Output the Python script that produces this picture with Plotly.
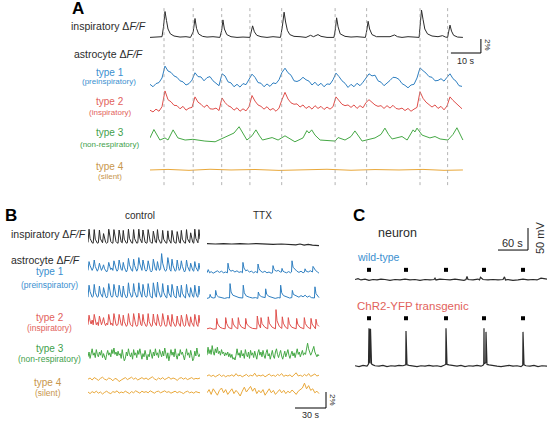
import numpy as np
import plotly.graph_objects as go

W, H = 550, 421
FONT = "Liberation Sans, Arial, sans-serif"

BLACK = "#2b2b2b"
BLUE = "#2f7fc1"
RED = "#e0504c"
GREEN = "#45a845"
ORANGE = "#e9a83a"
BLUE_T = "#3a8fcf"
RED_T = "#e2625c"
GREEN_T = "#3f9f4c"
ORANGE_T = "#c8964c"

# ---------------- panel A (seconds, % dF/F) ----------------
burst_a = [4.67, 14.4, 23.9, 33.3, 43.9, 61.7, 72.2, 90.0, 99.2]

insp_a_t = [0, 1.5, 3, 4.0, 4.5, 5.0, 5.5, 6.0, 6.8, 8,
            10, 12, 13.5, 14.4, 15.0, 15.5, 16.2, 17.5, 19, 21,
            23.3, 23.9, 24.3, 24.8, 25.6, 27, 29, 31, 33.3, 33.8,
            34.2, 34.8, 35.6, 37, 39, 41, 43.5, 44.1, 44.7, 45.2,
            45.8, 46.6, 48, 50, 52, 53.5, 54.5, 56, 57, 59,
            61.3, 61.8, 62.2, 62.7, 63.4, 65, 67, 69, 71.8, 72.3,
            72.7, 73.2, 74, 75.5, 78, 80, 81.5, 82.5, 84, 86,
            88, 89.7, 90.0, 90.5, 91.0, 91.6, 92.5, 94, 96, 97.5,
            98.5, 99.2, 99.6, 100.0, 100.5, 101.2, 102.5, 104.3]
insp_a_v = [0.0, 0.05, 0.0, 0.1, 1.5, 3.7, 2.4, 1.2, 0.5, 0.2,
            0.05, 0.1, 0.0, 0.8, 2.7, 1.3, 0.5, 0.15, 0.05, 0.1,
            0.0, 1.0, 2.5, 1.2, 0.4, 0.1, 0.0, 0.05, 0.0, 1.0,
            1.65, 0.8, 0.3, 0.1, 0.0, 0.1, 0.0, 1.5, 3.6, 2.2,
            1.0, 0.4, 0.15, 0.1, 0.0, 0.3, 0.1, 0.4, 0.15, 0.0,
            0.0, 1.2, 2.8, 1.5, 0.5, 0.15, 0.05, 0.1, 0.0, 1.1,
            2.3, 1.2, 0.4, 0.1, 0.05, 0.1, 0.35, 0.1, 0.0, 0.1,
            0.05, 0.0, 1.5, 3.9, 2.6, 1.2, 0.5, 0.2, 0.1, 0.25,
            0.05, 0.0, 0.9, 1.75, 0.9, 0.3, 0.05, 0.0]

# 1 s sampling, 0..104 s
type1_a = [0.1, -0.25, 0.2, 0.35, 1.0, 2.7, 2.0, 1.8, 1.3, 1.1,
           0.6, 0.45, 0.0, 0.2, 0.7, 1.75, 1.2, 1.15, 0.6, 1.05,
           1.2, 0.6, 0.25, -0.1, 1.6, 1.3, 0.45, 0.3, -0.25, 0.1,
           -0.3, 0.2, 0.05, 0.75, 1.55, 1.1, 0.35, 0.25, -0.25, 0.15,
           -0.2, 0.3, 0.2, 0.75, 1.8, 2.4, 1.75, 1.4, 0.6, 0.5,
           0.7, 1.1, 0.75, 0.55, 0.0, 0.4, -0.1, 0.25, -0.25, 0.15,
           0.1, 0.75, 1.7, 1.2, 0.6, 0.25, -0.35, 0.1, -0.25, 0.25,
           -0.1, 0.4, 0.95, 1.6, 1.3, 1.4, 0.6, 0.4, -0.1, 0.25,
           0.65, 1.1, 1.05, 0.8, 0.2, -0.05, -0.4, 0.0, 0.1, 1.0,
           2.45, 2.05, 1.7, 1.2, 1.1, 0.6, 0.65, 0.9, 0.55, 1.1,
           1.6, 0.9, 0.55, -0.1, -0.2]
type2_a = [0.1, -0.15, 0.25, -0.05, 0.6, 2.85, 1.6, 1.3, 0.8, 0.75,
           0.3, 0.65, 0.1, 0.4, 0.5, 2.0, 1.25, 0.95, 0.5, 0.85,
           0.3, 0.25, 0.4, 0.05, 1.85, 1.2, 0.75, 0.55, 0.1, 0.45,
           -0.05, 0.3, 0.0, 0.6, 2.2, 1.4, 0.85, 0.65, 0.25, 0.6,
           0.1, 0.35, -0.05, 0.4, 1.6, 2.65, 1.7, 1.15, 0.95, 1.0,
           0.55, 0.85, 0.35, 0.65, 0.25, 0.75, 0.35, 0.65, 0.2, 0.55,
           0.25, 0.6, 2.0, 1.4, 0.95, 0.75, 0.85, 0.5, 0.85, 0.35,
           0.75, 0.45, 1.2, 1.6, 1.2, 0.85, 0.65, 0.75, 0.35, 0.75,
           0.4, 0.8, 0.35, 0.25, 0.4, 0.05, 0.35, -0.05, 0.25, 0.5,
           2.75, 1.8, 1.25, 0.95, 0.55, 0.85, 0.35, 0.65, 0.15, 0.7,
           2.0, 1.5, 1.05, 0.65, 0.3]

type3_a_t = [0, 1.3, 3.3, 5, 6, 7.7, 9.3, 11.7, 14.3, 18.3,
             21.7, 25.7, 28, 29.7, 31, 32.3, 34, 35.3, 36.5, 37.5,
             40.7, 42.7, 45, 48.3, 51, 52.3, 53, 53.9, 55, 56.7,
             61.7, 62.7, 65, 67, 68.3, 69.5, 70.7, 75, 77, 78.3,
             79.5, 80.7, 84, 85.7, 87.7, 88.3, 89, 90.7, 93.3, 95,
             96.7, 99.3, 101, 102.3, 103.3, 104.3]
type3_a_v = [0.3, 1.5, 0.0, 0.3, 0.0, 1.45, 0.3, 0.0, 0.1, -0.15,
             -0.25, 0.5, 1.0, 1.9, 1.0, 0.0, 0.6, 1.45, 0.6, 0.0,
             0.35, 0.0, 0.6, -0.25, 0.3, 1.35, 1.0, 1.45, 0.7, 0.0,
             -0.15, 0.35, 0.0, 0.5, 1.3, 0.5, -0.15, 0.3, 0.8, 1.7,
             0.8, 0.15, 0.5, 0.0, 1.45, 1.15, 1.7, 0.7, 0.3, 0.5,
             0.15, 0.0, 0.8, 1.75, 0.8, 0.0]

type4_a_t = [0, 6, 13, 20, 27, 35, 43, 51, 59, 67, 75, 83, 91, 98, 104.3]
type4_a_v = [0.0, 0.08, -0.05, 0.1, 0.0, 0.07, -0.06, 0.05, 0.1, -0.04,
             0.06, 0.0, 0.08, -0.05, 0.0]

# ---------------- panel B control (1 s sampling, 0..108 s) ----------------
insp_ctl = [0.1, 1.75, 0.6, 0.2, 0.05, 0.0, 1.7, 0.5, 0.15, 0.0,
            0.05, 1.65, 0.55, 0.15, 0.05, 1.2, 0.4, 0.1, 0.0, 0.1,
            1.75, 0.6, 0.2, 0.05, 0.0, 1.7, 0.55, 0.2, 0.05, 0.0,
            1.65, 0.5, 0.15, 0.05, 1.6, 0.5, 0.15, 0.0, 0.05, 1.75,
            0.6, 0.2, 0.05, 0.0, 1.7, 0.55, 0.15, 0.0, 0.05, 1.75,
            0.6, 0.2, 0.05, 1.65, 0.5, 0.15, 0.0, 0.05, 1.7, 0.55,
            0.2, 0.05, 0.0, 1.5, 0.5, 0.15, 0.05, 1.7, 0.55, 0.15,
            0.0, 0.05, 1.6, 0.5, 0.15, 0.05, 0.0, 1.55, 0.5, 0.15,
            0.0, 1.6, 0.5, 0.15, 0.05, 0.0, 1.45, 0.45, 0.15, 0.0,
            1.6, 0.5, 0.15, 0.05, 0.0, 1.7, 0.55, 0.2, 0.05, 1.3,
            0.4, 0.1, 0.0, 1.75, 0.6, 0.2, 0.05, 1.7, 0.5]
type1a_ctl = [0.3, 1.4, 0.9, 0.5, 0.3, 0.6, 1.6, 0.8, 0.4, 0.2,
              0.5, 1.2, 0.7, 0.3, 0.6, 1.0, 0.5, 0.2, 0.1, 0.4,
              1.3, 0.8, 0.4, 0.6, 0.3, 1.5, 0.9, 0.5, 0.2, 0.4,
              1.6, 0.9, 0.4, 0.3, 1.3, 0.7, 0.3, 0.1, 0.4, 1.8,
              1.0, 0.5, 0.3, 0.2, 1.7, 0.9, 0.4, 0.2, 0.5, 1.9,
              1.1, 0.5, 0.3, 1.6, 0.8, 0.4, 0.2, 0.4, 1.5, 0.8,
              0.3, 0.1, 0.3, 1.7, 0.9, 0.4, 0.3, 1.4, 0.7, 0.3,
              0.5, 2.4, 1.2, 0.5, 0.3, 0.2, 0.5, 1.9, 1.0, 0.4,
              0.2, 1.7, 0.9, 0.4, 0.2, 0.3, 1.6, 0.8, 0.3, 0.5,
              1.5, 0.8, 0.3, 0.1, 0.3, 1.6, 0.8, 0.4, 0.2, 1.2,
              0.6, 0.3, 0.2, 1.4, 0.7, 0.3, 0.2, 1.2, 0.4]
type1b_ctl = [0.1, 1.6, 0.8, 0.3, 0.1, 0.2, 1.7, 0.7, 0.3, 0.1,
              0.2, 1.5, 0.6, 0.2, 0.1, 1.3, 0.5, 0.2, 0.0, 0.3,
              1.8, 0.8, 0.3, 0.1, 0.2, 1.7, 0.7, 0.3, 0.1, 0.2,
              1.6, 0.7, 0.2, 0.1, 1.5, 0.6, 0.2, 0.0, 0.2, 1.9,
              0.8, 0.3, 0.1, 0.2, 1.8, 0.8, 0.3, 0.1, 0.2, 1.9,
              0.9, 0.3, 0.1, 1.7, 0.7, 0.3, 0.1, 0.2, 1.8, 0.8,
              0.3, 0.1, 0.0, 1.9, 0.9, 0.3, 0.1, 2.0, 0.9, 0.3,
              0.1, 0.2, 1.8, 0.7, 0.3, 0.1, 0.0, 1.6, 0.6, 0.2,
              0.1, 1.7, 0.7, 0.3, 0.1, 0.0, 1.5, 0.6, 0.2, 0.1,
              1.6, 0.6, 0.2, 0.1, 0.0, 1.7, 0.7, 0.3, 0.1, 1.3,
              0.5, 0.2, 0.1, 1.6, 0.7, 0.2, 0.1, 1.5, 0.4]
type2_ctl = [0.3, 1.5, 0.8, 0.4, 0.9, 0.3, 1.6, 0.7, 0.3, 0.6,
             0.2, 1.4, 0.6, 0.3, 0.7, 1.2, 0.5, 0.2, 0.5, 0.3,
             1.6, 0.8, 0.3, 0.5, 0.2, 1.7, 0.8, 0.3, 0.2, 0.4,
             1.6, 0.7, 0.3, 0.2, 1.5, 0.7, 0.3, 0.1, 0.3, 1.7,
             0.8, 0.3, 0.2, 0.1, 1.7, 0.8, 0.3, 0.1, 0.3, 1.75,
             0.8, 0.3, 0.2, 1.6, 0.7, 0.3, 0.1, 0.2, 1.7, 0.7,
             0.3, 0.1, 0.2, 1.65, 0.7, 0.3, 0.2, 1.6, 0.7, 0.3,
             0.1, 0.3, 1.7, 0.8, 0.3, 0.1, 0.2, 1.5, 0.6, 0.3,
             0.1, 1.6, 0.7, 0.3, 0.1, 0.2, 1.4, 0.6, 0.2, 0.1,
             1.5, 0.7, 0.3, 0.1, 0.2, 1.6, 0.7, 0.3, 0.1, 1.3,
             0.6, 0.2, 0.1, 1.6, 0.7, 0.3, 0.1, 1.5, 0.5]
type3_ctl = [0.0, 0.6, -0.2, 0.3, 1.0, 0.2, 0.5, -0.1, 0.9, 0.3,
             0.0, 0.6, 0.2, 0.8, -0.1, 0.4, 0.1, -0.4, 0.3, 0.8,
             0.2, 0.5, 0.0, 0.9, 0.4, 1.1, 0.3, 0.6, 0.1, 0.7,
             0.2, 0.4, -0.2, 0.9, 0.1, -0.5, -0.2, 0.6, 0.1, 1.0,
             0.3, 0.0, 0.5, -0.3, 0.9, 0.2, 0.5, -0.1, 0.8, 0.3,
             1.0, 0.2, -0.3, 0.4, 0.0, 0.8, 0.2, -0.4, 0.3, 0.0,
             0.9, 0.3, -0.2, 0.6, 0.1, 1.0, 0.2, 0.5, -0.1, 0.9,
             0.3, 0.0, 0.7, 0.1, 1.1, 0.3, -0.2, 0.5, -0.5, 0.2,
             0.9, 0.2, 0.6, 0.0, 1.0, 0.2, -0.3, 0.4, 0.1, 0.9,
             0.3, 0.6, 0.0, -0.4, 0.3, 1.0, 0.2, 0.5, -0.1, 0.8,
             0.2, -0.5, -0.2, 0.7, 0.1, 1.1, 0.3, 0.0, 0.4]
# 2 s sampling
type4a_ctl = [0.0, 0.15, -0.1, 0.2, 0.05, -0.15, 0.1, 0.25, 0.0, -0.1,
              0.15, 0.05, -0.2, 0.1, 0.0, -0.3, -0.1, 0.05, 0.2, -0.05,
              0.1, 0.25, 0.0, 0.15, -0.1, 0.05, 0.2, 0.0, 0.15, -0.05,
              0.1, 0.3, 0.05, -0.1, 0.15, 0.0, 0.2, -0.05, 0.1, 0.25,
              0.0, 0.15, 0.05, -0.15, 0.1, 0.2, 0.0, 0.15, -0.05, 0.1,
              0.2, 0.0, 0.1, 0.05, 0.15]
type4b_ctl = [0.1, -0.1, 0.15, 0.0, 0.2, -0.05, 0.1, -0.15, 0.05, 0.2,
              0.0, -0.1, 0.15, 0.05, 0.25, -0.05, 0.1, 0.0, 0.2, 0.05,
              -0.1, 0.15, 0.0, 0.25, 0.1, -0.05, 0.2, 0.05, 0.15, 0.0,
              0.25, 0.1, -0.05, 0.15, 0.2, 0.0, 0.1, 0.25, 0.05, 0.15,
              -0.05, 0.1, 0.2, 0.0, 0.15, 0.05, -0.1, 0.1, 0.2, 0.0,
              0.1, -0.05, 0.15, 0.05, 0.0]

# ---------------- panel B TTX ----------------
insp_ttx_t = [0, 8, 16, 24, 32, 40, 48, 56, 64, 72, 80, 86, 90, 94, 98, 102, 108.4]
insp_ttx_v = [-0.05, -0.1, -0.05, -0.1, -0.05, -0.1, -0.05, -0.1, -0.15, -0.1,
              -0.15, -0.2, -0.1, -0.25, -0.15, -0.25, -0.3]

type1a_ttx_t = [0, 1.2, 2.5, 4, 6, 8, 10, 12, 14, 16,
                18, 19.8, 20.3, 21.3, 23, 25, 27, 29, 31, 33,
                34.3, 34.8, 35.8, 37.5, 39, 41, 43, 45, 47, 48.9,
                49.4, 50.4, 52, 54, 56, 58, 60, 62, 63.4, 63.9,
                65, 67, 69, 71, 72.1, 72.6, 73.6, 75, 77, 79,
                81, 81.8, 82.3, 83.3, 85, 87, 89, 91, 93, 94.4,
                94.9, 96, 98, 100, 102.1, 102.6, 103.6, 105, 107, 108.4]
type1a_ttx_v = [0.1, 0.5, 0.1, 0.25, 0.05, 0.2, 0.35, 0.15, 0.3, 0.1,
                0.2, 0.1, 1.3, 0.6, 0.3, 0.4, 0.2, 0.35, 0.15, 0.25,
                0.1, 1.4, 0.7, 0.35, 0.45, 0.2, 0.3, 0.1, 0.25, 0.1,
                1.2, 0.6, 0.3, 0.15, 0.3, 0.1, 0.2, 0.05, 0.1, 1.0,
                0.5, 0.3, 0.4, 0.2, 0.2, 0.65, 0.3, 0.2, 0.1, 0.25,
                0.1, 0.2, 1.6, 0.8, 0.5, 0.3, 0.15, 0.3, 0.1, 0.2,
                0.6, 0.3, 0.2, 0.35, 0.2, 0.9, 0.7, 0.4, 0.2, 0.05]

type1b_ttx_t = [0, 2.5, 3, 4, 6, 7.9, 8.4, 9.4, 11, 14,
                17, 20, 21.8, 22.3, 23.3, 25, 28, 31, 34.6, 35.1,
                36.1, 38, 41, 44, 47, 49.2, 49.7, 50.7, 53, 56.3,
                56.8, 57.8, 60, 63, 66, 69, 70.8, 71.3, 72.3, 74,
                77, 80, 82.1, 82.6, 83.6, 86, 89, 91, 93, 95,
                97, 99, 101, 104, 104.5, 105.5, 107, 108.4]
type1b_ttx_v = [0.0, 0.1, 0.5, 0.15, 0.05, 0.1, 1.0, 0.4, 0.2, 0.1,
                0.0, 0.1, 0.05, 1.85, 0.8, 0.4, 0.2, 0.1, 0.05, 1.65,
                0.7, 0.3, 0.15, 0.05, 0.1, 0.0, 0.8, 0.4, 0.2, 0.1,
                1.2, 0.5, 0.25, 0.1, 0.0, 0.1, 0.05, 1.65, 0.7, 0.35,
                0.15, 0.05, 0.1, 1.0, 0.5, 0.3, 0.15, 0.35, 0.2, 0.4,
                0.15, 0.3, 0.1, 0.05, 1.45, 0.6, 0.25, 0.1]

type2_ttx_t = [0, 3, 6, 8.9, 9.4, 10.4, 12.5, 15, 17.6, 18.1,
               19.1, 21, 24.0, 24.5, 25.5, 27.5, 29.8, 30.3, 31.3, 33.5,
               37.0, 37.5, 38.5, 41, 44, 48.2, 48.7, 49.7, 51.8, 52.3,
               53.3, 56, 58.8, 59.3, 60.3, 63, 66.3, 66.8, 67.8, 70,
               72.4, 72.9, 73.9, 76, 78.2, 78.7, 79.7, 82, 86.3, 86.8,
               87.8, 90, 93.7, 94.2, 95.2, 97.5, 100.2, 100.7, 101.7, 103.5,
               105.0, 105.5, 106.5, 108.4]
type2_ttx_v = [-0.2, -0.1, -0.25, -0.2, 1.1, 0.4, 0.0, -0.15, -0.2, 1.2,
               0.45, -0.05, -0.2, 1.1, 0.4, 0.0, -0.2, 1.2, 0.45, 0.0,
               -0.2, 1.1, 0.4, 0.05, -0.15, -0.2, 1.4, 0.5, -0.1, 1.2,
               0.45, 0.0, -0.2, 1.3, 0.5, 0.0, -0.2, 2.2, 0.8, 0.1,
               -0.15, 1.3, 0.5, 0.0, -0.2, 1.2, 0.45, 0.0, -0.2, 1.1,
               0.4, 0.0, -0.2, 1.2, 0.45, 0.0, -0.2, 1.1, 0.4, 0.0,
               -0.2, 1.0, 0.35, 0.1]

type3_ttx = [0.2, 1.2, 0.4, 0.9, 0.3, 1.4, 0.6, 0.2, 1.0, 0.5,
             1.2, 0.4, 0.7, 0.2, 0.9, 0.4, 0.6, 0.1, 0.5, 0.2,
             0.6, 0.0, 0.4, -0.1, 0.3, -0.3, -0.1, -0.4, 0.2, 1.0,
             0.2, 0.5, -0.1, 0.8, 0.1, 0.4, -0.2, 0.9, 0.3, 0.0,
             0.6, -0.2, 0.8, 0.2, 0.5, -0.1, 0.7, 0.1, -0.3, 0.5,
             0.9, 0.2, 0.6, 0.0, 0.8, 0.2, -0.2, 0.5, 0.9, 0.1,
             0.4, -0.3, 0.3, 0.8, 0.1, -0.2, 0.6, 1.0, 0.3, -0.1,
             0.4, 0.8, 0.1, -0.3, 0.2, 0.7, 0.0, 0.5, 0.9, 0.2,
             -0.2, 0.3, 0.7, 0.1, 0.5, -0.1, 0.6, 1.0, 0.3, 0.6,
             0.0, 0.4, 0.8, 0.2, 0.5, 0.3, 1.1, 1.7, 1.0, 0.6,
             0.2, 0.5, 1.0, 1.3, 0.6, 0.2, 0.0, 0.3, 0.1]
type4a_ttx = [0.4, 0.55, 0.35, 0.5, 0.3, 0.45, 0.6, 0.35, 0.5, 0.3,
              0.45, 0.4, 0.55, 0.35, 0.7, 0.4, 0.5, 0.3, 0.45, 0.6,
              0.35, 0.5, 0.4, 0.75, 0.35, 0.5, 0.4, 0.55, 0.3, 0.5,
              0.65, 0.4, 0.5, 0.35, 0.6, 0.45, 0.7, 0.35, 0.5, 0.4,
              0.55, 0.3, 0.5, 0.8, 0.4, 0.5, 0.35, 0.6, 0.4, 0.7,
              0.35, 0.5, 0.65, 0.4, 0.5]
type4b_ttx = [0.0, 0.4, -0.2, 0.5, 0.1, -0.3, 0.3, 0.6, 0.0, 0.4,
              -0.2, 0.2, 0.5, -0.1, 0.3, 0.0, -0.4, 0.2, 0.7, 0.1,
              0.5, 0.8, 0.2, 0.6, -0.1, 0.3, 0.0, 0.4, -0.3, 0.2,
              0.5, 0.0, 0.3, -0.2, 0.1, 0.4, 0.0, 0.3, -0.1, 0.2,
              0.0, 0.35, 0.1, -0.2, 0.2, 0.4, 0.6, 1.2, 0.5, 0.9,
              0.3, 0.5, 0.0, 0.2, -0.1]

# ---------------- panel C (seconds, mV) ----------------
stim_t = [28, 102, 182, 258, 336]

wt_t = [0, 6, 12, 20, 28, 36, 44, 52, 60, 70,
        80, 90, 100, 110, 120, 130, 140, 150, 158, 160,
        162, 170, 180, 190, 200, 210, 218, 222, 224, 226,
        236, 246, 249, 251, 256, 266, 276, 286, 296, 299,
        301, 306, 316, 326, 336, 346, 356, 364, 368, 372,
        378, 384]
wt_v = [1, 3, 0, 2, -1, 1, 0, 2, 1, -1,
        1, 0, 2, 0, 1, -1, 1, 0, 1, 4,
        0, 2, 1, 0, 2, 1, -1, 1, 8, 1,
        0, 2, 0, 6, 1, 0, 1, 0, 1, 7,
        0, 1, -1, 0, 2, 0, 1, 0, 3, 4,
        3, 2]

tg_t = [0, 8, 16, 24, 27, 28, 28.6, 29.4, 30, 31, 31.6, 32.4, 33, 36, 40,
        48, 56, 64, 72, 80, 88, 96, 101.5, 102, 102.5, 104, 108, 116,
        124, 132, 140, 148, 156, 164, 172, 178, 181.5, 182, 182.5, 184, 188, 196,
        204, 212, 220, 228, 236, 244, 252, 256, 257.5, 258, 258.5, 260, 261.5, 262, 262.5, 264, 268, 276,
        284, 292, 300, 308, 316, 324, 332, 335.5, 336, 336.5, 338, 342, 350, 358, 366, 374, 384]
tg_v = [1, -1, 2, 0, 5, 86, 8, 84, 6, 85, 7, 60, 5, 3, 1,
        0, 2, -1, 1, 0, 2, 1, 3, 80, 4, 3, 2, 1,
        -1, 1, 0, 2, 0, 1, -1, 2, 4, 86, 5, 4, 3, 1,
        0, 2, -1, 1, 0, 2, 0, 2, 5, 86, 6, 7, 8, 78, 6, 4, 3, 1,
        0, -1, 1, 2, 0, 1, -1, 2, 78, 4, 3, 1, 0, 2, -1, 1, 0]


def uniform(v, span):
    return np.linspace(0, span, len(v))


def px(x):
    return x / W


def py(y):
    return 1 - y / H


fig = go.Figure()


def trace(t, v, off, color, xa, ya, width=1.0):
    fig.add_trace(go.Scatter(
        x=t, y=np.array(v) + off, mode="lines",
        line=dict(color=color, width=width),
        xaxis=xa, yaxis=ya, hoverinfo="skip"))


# ---- A ----
for b in burst_a:
    fig.add_shape(type="line", xref="x", yref="y", x0=b, x1=b, y0=0.7, y1=26.4,
                  line=dict(color="#a0a0a0", width=0.8, dash="dot"))

trace(insp_a_t, insp_a_v, 21.8, BLACK, "x", "y")
trace(uniform(type1_a, 104), type1_a, 15.0, BLUE, "x", "y")
trace(uniform(type2_a, 104), type2_a, 11.3, RED, "x", "y")
trace(type3_a_t, type3_a_v, 7.14, GREEN, "x", "y")
trace(type4_a_t, type4_a_v, 2.86, ORANGE, "x", "y")

# ---- B ----
SPAN_B = 108.4
trace(uniform(insp_ctl, SPAN_B), insp_ctl, 21.1, BLACK, "x2", "y2")
trace(uniform(type1a_ctl, SPAN_B), type1a_ctl, 17.4, BLUE, "x2", "y2")
trace(uniform(type1b_ctl, SPAN_B), type1b_ctl, 14.25, BLUE, "x2", "y2")
trace(uniform(type2_ctl, SPAN_B), type2_ctl, 10.6, RED, "x2", "y2")
trace(uniform(type3_ctl, SPAN_B), type3_ctl, 6.9, GREEN, "x2", "y2")
trace(uniform(type4a_ctl, SPAN_B), type4a_ctl, 4.1, ORANGE, "x2", "y2")
trace(uniform(type4b_ctl, SPAN_B), type4b_ctl, 2.4, ORANGE, "x2", "y2")

trace(insp_ttx_t, insp_ttx_v, 21.1, BLACK, "x3", "y2", 1.2)
trace(type1a_ttx_t, type1a_ttx_v, 17.3, BLUE, "x3", "y2")
trace(type1b_ttx_t, type1b_ttx_v, 14.2, BLUE, "x3", "y2")
trace(type2_ttx_t, type2_ttx_v, 10.6, RED, "x3", "y2")
trace(uniform(type3_ttx, SPAN_B), type3_ttx, 6.9, GREEN, "x3", "y2")
trace(uniform(type4a_ttx, SPAN_B), type4a_ttx, 4.1, ORANGE, "x3", "y2")
trace(uniform(type4b_ttx, SPAN_B), type4b_ttx, 2.4, ORANGE, "x3", "y2")

# ---- C ----
trace(wt_t, wt_v, 216, BLACK, "x4", "y4", 1.2)
trace(tg_t, tg_v, 20, BLACK, "x4", "y4", 1.2)
for off in (216 + 23, 20 + 109):
    fig.add_trace(go.Scatter(
        x=stim_t, y=[off] * len(stim_t), mode="markers",
        marker=dict(symbol="square", size=4, color="black"),
        xaxis="x4", yaxis="y4", hoverinfo="skip"))

# ---- scale bars ----
bar = dict(color="black", width=1)
fig.add_shape(type="line", xref="x", yref="y", x0=100.3, x1=110.3, y0=19.57, y1=19.57, line=bar)
fig.add_shape(type="line", xref="x", yref="y", x0=110.3, x1=110.3, y0=19.57, y1=21.57, line=bar)
fig.add_shape(type="line", xref="x3", yref="y2", x0=85.2, x1=115.2, y0=0.5, y1=0.5, line=bar)
fig.add_shape(type="line", xref="x3", yref="y2", x0=115.2, x1=115.2, y0=0.5, y1=2.5, line=bar)
fig.add_shape(type="line", xref="x4", yref="y4", x0=286, x1=346, y0=284, y1=284, line=bar)
fig.add_shape(type="line", xref="x4", yref="y4", x0=346, x1=346, y0=284, y1=334, line=bar)


def label(text, x, y, size=10, color=BLACK, xanchor="center", angle=0, bold=False):
    if bold:
        text = f"<b>{text}</b>"
    fig.add_annotation(text=text, x=px(x), y=py(y), xref="paper", yref="paper",
                       xanchor=xanchor, yanchor="middle", showarrow=False,
                       textangle=angle, font=dict(family=FONT, size=size, color=color))


DFF = "Δ<i>F/F</i>"

# A labels
label("A", 70, 9, 17, "black", "left", bold=True)
label(f"inspiratory {DFF}", 148, 26, 10.5, BLACK, "right")
label(f"astrocyte {DFF}", 145, 54, 10.5, BLACK, "right")
label("type 1", 110, 72, 10, BLUE_T)
label("(preinspiratory)", 109, 82, 8, BLUE_T)
label("type 2", 110, 101, 10, RED_T)
label("(inspiratory)", 110, 112, 8, RED_T)
label("type 3", 110, 133, 10, GREEN_T)
label("(non-respiratory)", 109, 144, 8, GREEN_T)
label("type 4", 110, 166, 10, ORANGE_T)
label("(silent)", 110, 176, 8, ORANGE_T)
label("10 s", 466, 61, 9, BLACK)
label("2%", 488, 45, 8, BLACK, angle=90)

# B labels
label("B", 3, 215, 17, "black", "left", bold=True)
label("control", 140, 215, 10, BLACK)
label("TTX", 262, 215, 10, BLACK)
label(f"inspiratory {DFF}", 9, 234, 10.5, BLACK, "left")
label(f"astrocyte {DFF}", 9, 260, 10.5, BLACK, "left")
label("type 1", 50, 271, 10, BLUE_T)
label("(preinspiratory)", 49, 285, 8.5, BLUE_T)
label("type 2", 50, 317, 10, RED_T)
label("(inspiratory)", 49, 328, 8.5, RED_T)
label("type 3", 50, 348, 10, GREEN_T)
label("(non-respiratory)", 49, 359, 8.5, GREEN_T)
label("type 4", 48, 382, 10, ORANGE_T)
label("(silent)", 48, 393, 8.5, ORANGE_T)
label("30 s", 311, 415, 9, BLACK)
label("2%", 333, 400, 8, BLACK, angle=90)

# C labels
label("C", 351, 215, 17, "black", "left", bold=True)
label("neuron", 397, 233, 12.5, BLACK)
label("wild-type", 355, 257, 10.5, BLUE_T, "left")
label("ChR2-YFP transgenic", 355, 306, 11.5, RED_T, "left")
label("60 s", 512, 243, 11, BLACK)
label("50 mV", 540, 238, 11, BLACK, angle=-90)

hidden = dict(visible=False, fixedrange=True)
fig.update_layout(
    width=W, height=H,
    margin=dict(l=0, r=0, t=0, b=0),
    paper_bgcolor="white", plot_bgcolor="rgba(0,0,0,0)",
    showlegend=False,
    xaxis=dict(hidden, domain=[px(150), px(490)], range=[0, 113.33], anchor="y"),
    yaxis=dict(hidden, domain=[py(190), py(0)], range=[0, 190 / 7], anchor="x"),
    xaxis2=dict(hidden, domain=[px(88), px(200)], range=[0, 108.4], anchor="y2"),
    yaxis2=dict(hidden, domain=[py(412), py(222)], range=[0, 190 / 8], anchor="x2"),
    xaxis3=dict(hidden, domain=[px(207), px(335)], range=[0, 123.9], anchor="y2"),
    xaxis4=dict(hidden, domain=[px(355), px(547)], range=[0, 384], anchor="y4"),
    yaxis4=dict(hidden, domain=[py(375), py(225)], range=[0, 150 / 0.44], anchor="x4"),
)

fig.write_html("out.html", config={"displayModeBar": False},
               post_script="document.body.style.margin = '0';")
